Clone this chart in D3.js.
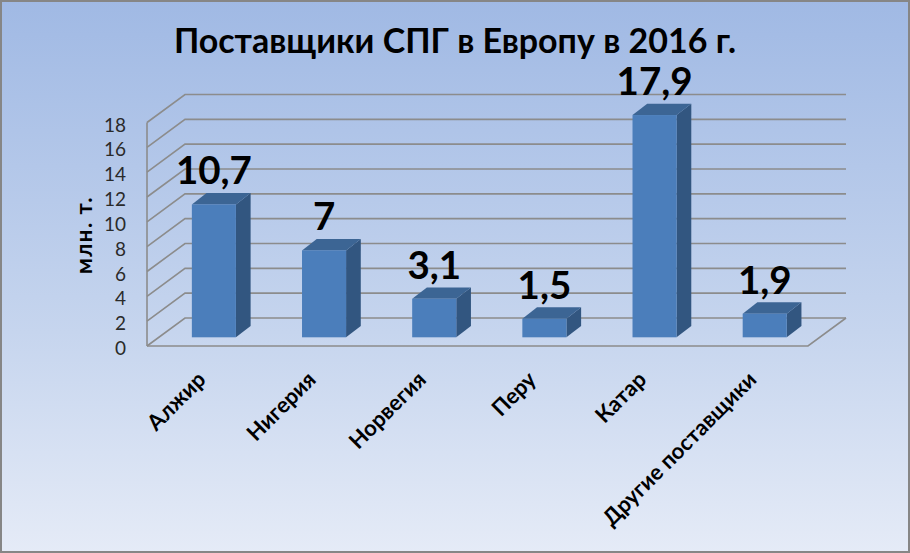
<!DOCTYPE html>
<html>
<head>
<meta charset="utf-8">
<script src="https://cdn.jsdelivr.net/npm/d3@7"></script>
<style>
  html, body { margin: 0; padding: 0; background: #fff; }
  svg { display: block; font-family: Lato, "Open Sans", sans-serif; }
</style>
</head>
<body>
<svg id="chart" width="910" height="553"></svg>
<script>
const categories = ['Алжир', 'Нигерия', 'Норвегия', 'Перу', 'Катар', 'Другие поставщики'];
const values = [10.7, 7, 3.1, 1.5, 17.9, 1.9];
const valueLabels = ['10,7', '7', '3,1', '1,5', '17,9', '1,9'];
const yTicks = [0, 2, 4, 6, 8, 10, 12, 14, 16, 18];

const width = 910;
const height = 553;
const svg = d3.select('#chart');

const left = 147, right = 808, floorY = 346, topY = 122.5;
const depthX = 38, depthY = 28;

const x = d3.scaleBand().domain(categories).range([left, right]).paddingInner(0.6).paddingOuter(0.3);
const y = d3.scaleLinear().domain([0, 18]).range([floorY, topY]);

// background
const defs = svg.append('defs');
const bg = defs.append('linearGradient').attr('id', 'bg').attr('x1', 0).attr('y1', 0).attr('x2', 0).attr('y2', 1);
bg.append('stop').attr('offset', '0%').attr('stop-color', '#a0b9e4');
bg.append('stop').attr('offset', '60%').attr('stop-color', '#c6d5ee');
bg.append('stop').attr('offset', '100%').attr('stop-color', '#e5ebf7');

svg.append('rect')
  .attr('width', width).attr('height', height)
  .attr('fill', 'url(#bg)')
  .attr('stroke', '#868686')
  .attr('stroke-width', 4);

// walls and gridlines
const grid = svg.append('g').attr('fill', 'none').attr('stroke', '#8c8c8c').attr('stroke-width', 1.6);

grid.selectAll('path.gridline')
  .data(yTicks)
  .join('path')
  .attr('class', 'gridline')
  .attr('d', (d) => `M${left},${y(d)}L${left + depthX},${y(d) - depthY}L${right + depthX},${y(d) - depthY}`);

grid.append('path').attr('d', `M${left},${y(0)}V${y(18)}`);
grid.append('path').attr('d', `M${left},${y(0)}H${right}L${right + depthX},${y(0) - depthY}`);

// y axis
const yAxis = d3.axisLeft(y).tickValues(yTicks).tickSize(0).tickPadding(21);
svg.append('g')
  .attr('transform', `translate(${left},0)`)
  .call(yAxis)
  .call((g) => g.select('.domain').remove())
  .call((g) => g.selectAll('text')
    .attr('font-family', 'Lato, sans-serif')
    .attr('font-size', 19)
    .attr('dy', '0.45em')
    .attr('fill', '#2a2a2a'));

svg.append('text')
  .attr('transform', 'translate(92,235) rotate(-90)')
  .attr('text-anchor', 'middle')
  .attr('font-size', 22)
  .attr('font-weight', 700)
  .attr('letter-spacing', 1.5)
  .attr('fill', '#000')
  .text('млн. т.');

// bars: front, top and side faces
const barShiftX = 11.8, barShiftY = 8.7, barDepthX = 14.7, barDepthY = 11.4;
const pxPerUnit = y(0) - y(1);
const barX = (d) => x(d.name) + barShiftX;
const barTop = (d) => y(0) - barShiftY - d.value * pxPerUnit;
const barBottom = y(0) - barShiftY;
const bw = x.bandwidth();

const data = categories.map((name, i) => ({ name, value: values[i], label: valueLabels[i] }));
const bars = svg.append('g').selectAll('g').data(data).join('g');

bars.append('path')
  .attr('fill', '#325680')
  .attr('d', (d) => `M${barX(d) + bw},${barTop(d)}l${barDepthX},${-barDepthY}V${barBottom - barDepthY}l${-barDepthX},${barDepthY}Z`);

bars.append('path')
  .attr('fill', '#3c6594')
  .attr('d', (d) => `M${barX(d)},${barTop(d)}l${barDepthX},${-barDepthY}h${bw}l${-barDepthX},${barDepthY}Z`);

bars.append('rect')
  .attr('x', barX)
  .attr('y', barTop)
  .attr('width', bw)
  .attr('height', (d) => barBottom - barTop(d))
  .attr('fill', '#4b7ebb');

bars.append('text')
  .attr('x', (d) => barX(d) + bw / 2)
  .attr('y', (d) => barTop(d) - 20)
  .attr('text-anchor', 'middle')
  .attr('font-size', 38.5)
  .attr('font-weight', 700)
  .attr('fill', '#000')
  .text((d) => d.label);

// category labels
svg.append('g').selectAll('text')
  .data(categories)
  .join('text')
  .attr('transform', (d) => `translate(${x(d) + bw / 2 + 5},${381}) rotate(-45)`)
  .attr('text-anchor', 'end')
  .attr('font-size', 22)
  .attr('font-weight', 700)
  .attr('fill', '#000')
  .text((d) => d);

// title
svg.append('text')
  .attr('x', 455)
  .attr('y', 53)
  .attr('text-anchor', 'middle')
  .attr('font-size', 34)
  .attr('font-weight', 700)
  .attr('fill', '#000')
  .text('Поставщики СПГ в Европу в 2016 г.');
</script>
</body>
</html>
